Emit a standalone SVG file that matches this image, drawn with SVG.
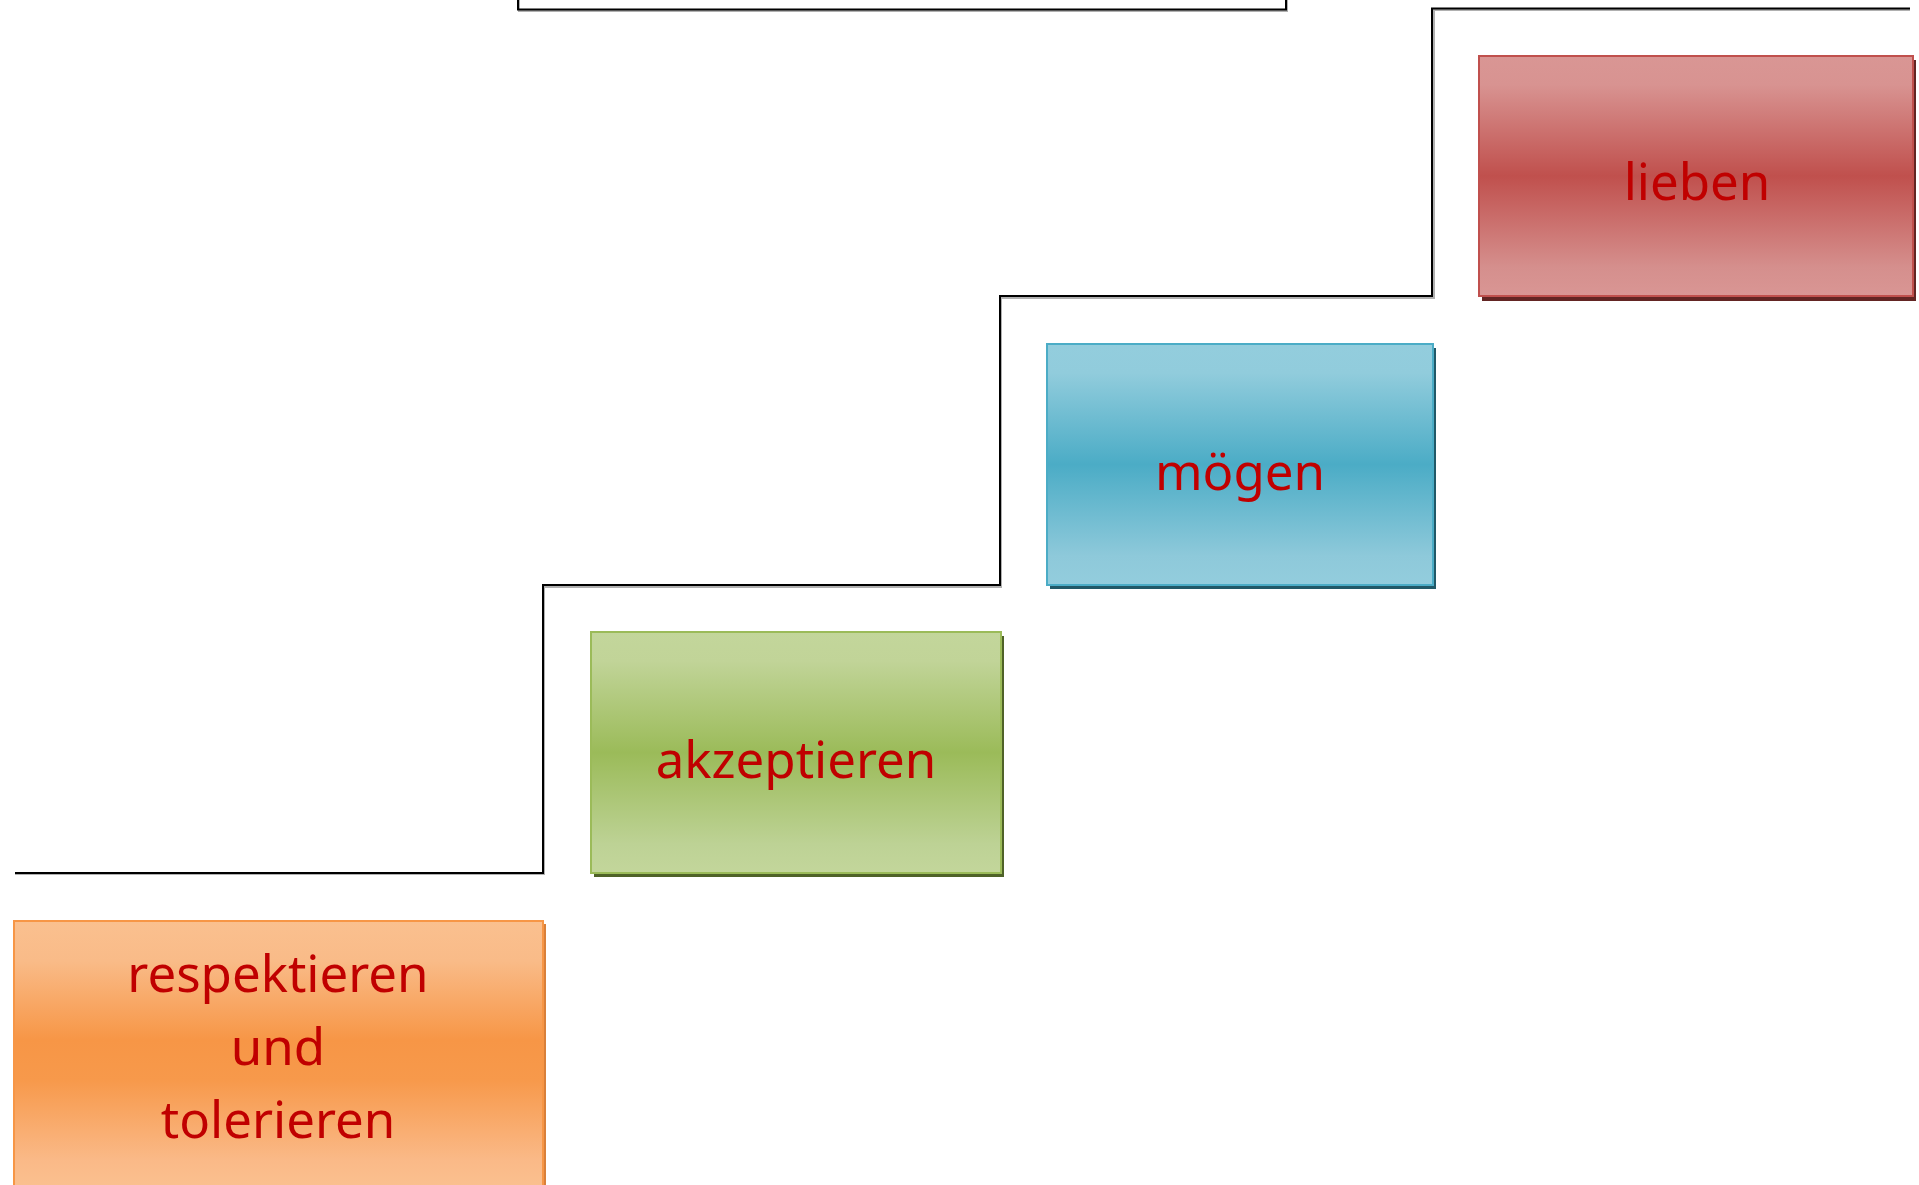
<svg xmlns="http://www.w3.org/2000/svg" width="1919" height="1185" viewBox="0 0 1919 1185">
<style>
.lbl{font-family:"Noto Sans","DejaVu Sans",sans-serif;font-size:51px;fill:#c00000;text-anchor:middle}
.line{fill:none;stroke:#000;stroke-width:2}
.lineShadow{fill:none;stroke:#b0b0b0;stroke-width:2}
</style>
<defs>
<linearGradient id="gO" x1="0" y1="0" x2="0" y2="1">
<stop offset="0" stop-color="#fac08f"/><stop offset="0.15" stop-color="#f9bb88"/><stop offset="0.45" stop-color="#f79646"/><stop offset="0.6" stop-color="#f7994b"/><stop offset="0.9" stop-color="#fab987"/><stop offset="1" stop-color="#fac08f"/>
</linearGradient>
<linearGradient id="gG" x1="0" y1="0" x2="0" y2="1">
<stop offset="0" stop-color="#c3d69b"/><stop offset="0.12" stop-color="#c1d498"/><stop offset="0.5" stop-color="#9bbb59"/><stop offset="0.88" stop-color="#bdd295"/><stop offset="1" stop-color="#c3d69b"/>
</linearGradient>
<linearGradient id="gB" x1="0" y1="0" x2="0" y2="1">
<stop offset="0" stop-color="#93cddd"/><stop offset="0.12" stop-color="#91ccdc"/><stop offset="0.5" stop-color="#4bacc6"/><stop offset="0.88" stop-color="#8ec9da"/><stop offset="1" stop-color="#93cddd"/>
</linearGradient>
<linearGradient id="gR" x1="0" y1="0" x2="0" y2="1">
<stop offset="0" stop-color="#d99694"/><stop offset="0.12" stop-color="#d89391"/><stop offset="0.5" stop-color="#c0504d"/><stop offset="0.88" stop-color="#d58f8d"/><stop offset="1" stop-color="#d99694"/>
</linearGradient>
</defs>
<g id="stairs">
<path class="lineShadow" d="M15,874 H544 V587 H1001 V298 H1434 V10 H1910"/>
<path class="line" d="M15,873 H543 V585 H1000 V296 H1432 V8.5 H1910"/>
<path class="lineShadow" d="M519,0 V11 H1287 V0"/>
<path class="line" d="M518,-2 V9.5 H1286 V-2"/>
</g>
<g id="connectors"></g>
<g id="node-respektieren">
<rect x="17" y="924" width="529" height="265" fill="#d9803a"/>
<rect x="14" y="921" width="529" height="265" fill="url(#gO)" stroke="#f79646" stroke-width="2"/>
<text class="lbl" x="278" y="992">respektieren</text>
<text class="lbl" x="278" y="1065">und</text>
<text class="lbl" x="278" y="1138">tolerieren</text>
</g>
<g id="node-akzeptieren">
<rect x="594" y="636" width="410" height="241" fill="#4f6228"/>
<rect x="591" y="632" width="410" height="241" fill="url(#gG)" stroke="#9bbb59" stroke-width="2"/>
<text class="lbl" x="796" y="778">akzeptieren</text>
</g>
<g id="node-moegen">
<rect x="1050" y="348" width="386" height="241" fill="#215968"/>
<rect x="1047" y="344" width="386" height="241" fill="url(#gB)" stroke="#4bacc6" stroke-width="2"/>
<text class="lbl" x="1240" y="490">mögen</text>
</g>
<g id="node-lieben">
<rect x="1482" y="60" width="434" height="241" fill="#632523"/>
<rect x="1479" y="56" width="434" height="240" fill="url(#gR)" stroke="#c0504d" stroke-width="2"/>
<text class="lbl" x="1697" y="200">lieben</text>
</g>
</svg>
